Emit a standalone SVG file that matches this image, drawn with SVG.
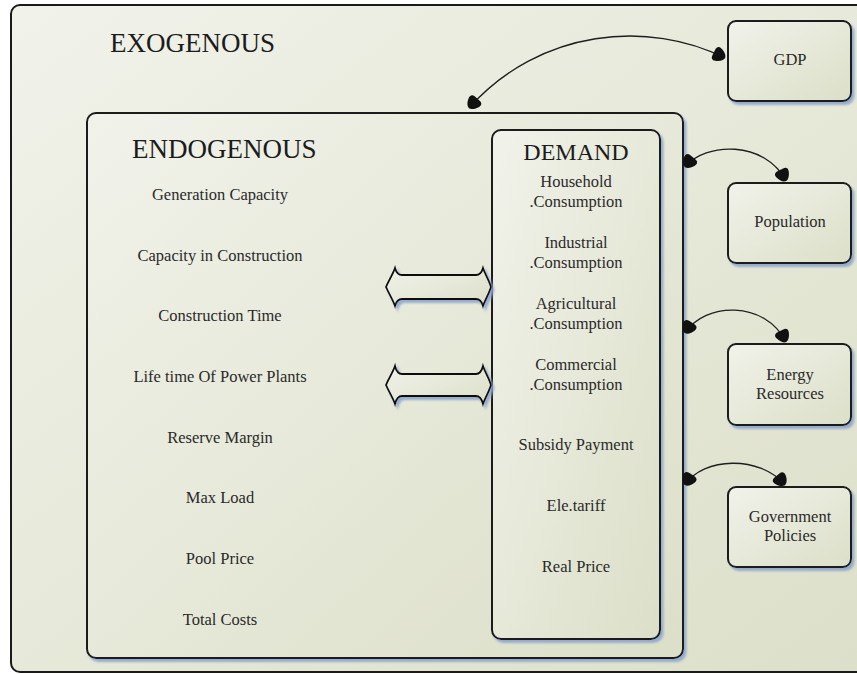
<svg xmlns="http://www.w3.org/2000/svg" width="857" height="674" viewBox="0 0 857 674">
<defs>
<linearGradient id="bg" x1="0" y1="0" x2="1" y2="1">
<stop offset="0" stop-color="#f1f2ea"/>
<stop offset="1" stop-color="#dcdfc8"/>
</linearGradient>
<filter id="sh" x="-10%" y="-10%" width="130%" height="130%">
<feDropShadow dx="2.5" dy="3" stdDeviation="1.2" flood-color="#8ea6cc" flood-opacity="0.9"/>
</filter>
<marker id="dot" viewBox="-1 -1 12 12" refX="10" refY="5" markerWidth="15" markerHeight="15" markerUnits="userSpaceOnUse" orient="auto-start-reverse">
<path d="M10,5 C10,7.5 7,9.5 4,10.5 C1.5,11.3 0,10 0,7.5 L0,2.5 C0,0 1.5,-1.3 4,-0.5 C7,0.5 10,2.5 10,5 Z" fill="#111"/>
</marker>
<style>
.box{fill:url(#bg);stroke:#1a1a1a;stroke-width:2;filter:url(#sh)}
.t{font-family:"Liberation Serif","Times New Roman",serif;font-size:16.5px;fill:#2a2a2a;text-anchor:middle}
.h{font-family:"Liberation Serif","Times New Roman",serif;fill:#1c1c1c}
.c{fill:none;stroke:#1e1e1e;stroke-width:1.3;marker-start:url(#dot);marker-end:url(#dot)}
.dbl{fill:url(#bg);stroke:#111;stroke-width:1.8;filter:url(#sh)}
</style>
</defs>
<rect width="857" height="674" fill="#ffffff"/>
<g id="exogenous">
<rect x="11" y="5" width="890" height="667" rx="9" fill="url(#bg)" stroke="#1a1a1a" stroke-width="2"/>
<text class="h" x="110" y="52" font-size="27">EXOGENOUS</text>
</g>
<g id="endogenous">
<rect class="box" x="87" y="113" width="596" height="545" rx="9"/>
<text class="h" x="132" y="158" font-size="27">ENDOGENOUS</text>
<text class="t" x="220" y="200">Generation Capacity</text>
<text class="t" x="220" y="261">Capacity in Construction</text>
<text class="t" x="220" y="321">Construction Time</text>
<text class="t" x="220" y="382">Life time Of Power Plants</text>
<text class="t" x="220" y="443">Reserve Margin</text>
<text class="t" x="220" y="503">Max Load</text>
<text class="t" x="220" y="564">Pool Price</text>
<text class="t" x="220" y="625">Total Costs</text>
</g>
<g id="demand">
<rect class="box" x="492" y="130" width="168" height="509" rx="9"/>
<text class="h" x="576" y="160" font-size="24" text-anchor="middle">DEMAND</text>
<text class="t" x="576" y="187">Household</text>
<text class="t" x="576" y="207">.Consumption</text>
<text class="t" x="576" y="248">Industrial</text>
<text class="t" x="576" y="268">.Consumption</text>
<text class="t" x="576" y="309">Agricultural</text>
<text class="t" x="576" y="329">.Consumption</text>
<text class="t" x="576" y="370">Commercial</text>
<text class="t" x="576" y="390">.Consumption</text>
<text class="t" x="576" y="450">Subsidy Payment</text>
<text class="t" x="576" y="511">Ele.tariff</text>
<text class="t" x="576" y="572">Real Price</text>
</g>
<g id="gdp">
<rect class="box" x="728" y="21" width="123" height="80" rx="8"/>
<text class="t" x="790" y="65">GDP</text>
</g>
<g id="population">
<rect class="box" x="728" y="183" width="123" height="80" rx="8"/>
<text class="t" x="790" y="227">Population</text>
</g>
<g id="energy">
<rect class="box" x="728" y="344" width="123" height="81" rx="8"/>
<text class="t" x="790" y="380">Energy</text>
<text class="t" x="790" y="399">Resources</text>
</g>
<g id="government">
<rect class="box" x="728" y="487" width="123" height="80" rx="8"/>
<text class="t" x="790" y="522">Government</text>
<text class="t" x="790" y="541">Policies</text>
</g>
<g id="connectors">
<path class="c" d="M469,108 C540,28 650,20 725,58"/>
<path class="c" d="M685,167 C705,142 765,140 786,181"/>
<path class="c" d="M685,333 C705,302 765,300 786,342"/>
<path class="c" d="M685,485 C703,457 760,455 785,485"/>
<path class="dbl" d="M386,287 C389,280 393,274 395,268 Q397,275 402,275 L476,275 Q481,275 483,268 C485,274 489,280 491,287 C489,294 485,300 483,306 Q481,299 476,299 L402,299 Q397,299 395,306 C393,300 389,294 386,287 Z"/>
<path class="dbl" d="M386,385 C389,378 393,372 395,366 Q397,374 402,374 L476,374 Q481,374 483,366 C485,372 489,378 491,385 C489,392 485,398 483,404 Q481,396 476,396 L402,396 Q397,396 395,404 C393,398 389,392 386,385 Z"/>
</g>
</svg>
